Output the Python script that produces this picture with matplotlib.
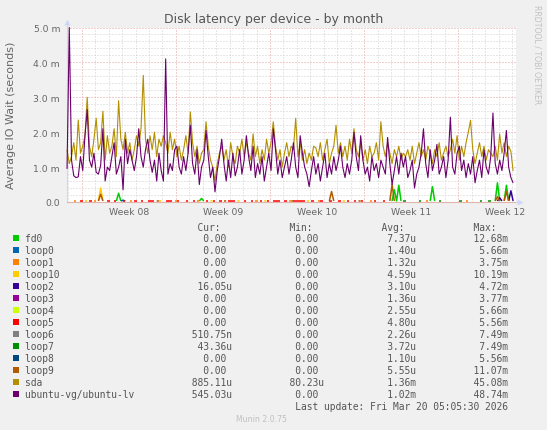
import numpy as np
import matplotlib
matplotlib.use("Agg")
import matplotlib.pyplot as plt
from matplotlib.patches import Rectangle

W, H = 547, 431

# samples every 4 hours, time in days from monday of week 08
t_start = -1.09
t_step = 1 / 6.0

# latency in milliseconds
ubuntu_lv = [
    0.95, 5.0, 1.2, 0.75, 0.7, 0.72, 1.3, 0.9, 1.9, 2.65,
    1.2, 1.0, 1.4, 0.85, 0.8, 1.05, 2.1, 0.6, 1.0, 0.9,
    1.3, 1.7, 0.8, 1.0, 1.3, 0.35, 1.8, 1.1, 1.5, 1.2,
    0.9, 1.3, 2.1, 1.3, 1.0, 1.5, 1.8, 1.2, 0.85, 1.2,
    0.6, 1.4, 0.9, 0.6, 4.1, 0.8, 1.1, 0.9, 1.5, 1.6,
    1.0, 0.8, 1.3, 0.9, 1.4, 2.2, 1.1, 0.8, 1.5, 0.5,
    1.0, 1.2, 2.05, 1.3, 0.7, 1.0, 0.29, 0.9, 1.3, 1.8,
    1.1, 0.6, 1.2, 0.7, 1.4, 0.75, 1.0, 1.5, 0.8, 1.2,
    1.9, 1.3, 0.9, 1.6, 0.7, 1.1, 0.8, 1.3, 0.6, 1.0,
    1.4, 0.9, 2.1, 1.5, 0.8, 1.2, 0.7, 1.0, 1.3, 0.8,
    1.2, 1.7, 1.0, 0.7, 1.9, 1.4, 1.0, 0.8, 0.44, 0.9,
    1.3, 0.8, 1.1, 0.6, 1.0, 1.4, 0.7, 1.1, 0.8, 1.3,
    0.9, 1.2, 1.6, 1.0, 0.7, 1.1, 0.8, 1.2, 2.0, 1.3,
    0.9, 1.9, 1.2, 0.8, 1.0, 0.6, 1.3, 0.9, 1.1, 0.7,
    1.2, 1.0, 0.8, 1.85, 1.1, 0.5, 0.9, 1.3, 0.8, 1.4,
    1.0, 1.3, 0.7, 0.9, 1.2, 0.4, 0.8, 1.0, 1.4, 2.1,
    1.1, 0.7, 1.5, 0.9, 1.2, 1.65, 0.8, 1.0, 1.3, 0.7,
    1.2, 2.43, 1.0, 0.8, 1.4, 1.6, 0.9, 1.2, 0.7, 1.1,
    0.8, 1.3, 0.55, 0.9, 1.2, 0.7, 1.5, 1.0, 0.8, 1.3,
    2.55, 1.1, 0.8, 1.2, 0.9, 1.4, 2.05, 1.0, 0.7, 0.545,
]
sda = [
    1.5, 1.1, 1.3, 1.7, 1.2, 2.35, 1.4, 1.6, 1.9, 3.0,
    1.6, 1.3, 1.8, 2.4, 1.5, 1.7, 2.6, 1.2, 1.9, 1.4,
    1.6, 2.1, 1.3, 2.9, 1.8, 1.5, 2.0, 1.4, 1.7, 1.2,
    1.5, 1.9, 1.6, 2.1, 3.63, 1.8, 1.4, 1.9, 1.5, 2.0,
    1.3, 1.8, 1.6, 1.9, 1.7, 1.4, 2.0, 1.5, 1.8, 1.3,
    1.6, 1.2, 1.5, 1.9, 1.4, 2.58, 1.7, 1.3, 1.6, 1.1,
    1.4, 1.5, 2.3, 1.6, 1.2, 1.0, 0.6, 1.1, 1.4, 1.6,
    1.2, 1.5, 1.0, 1.7, 1.3, 1.1, 1.6, 1.4, 1.8, 1.3,
    1.7, 1.4, 1.2, 1.95, 1.3, 1.6, 1.1, 1.5, 1.2, 1.8,
    1.4, 1.7, 2.3, 1.6, 1.2, 1.5, 1.0, 1.4, 1.7, 1.3,
    1.6, 1.5, 2.4, 1.3, 1.7, 1.2, 1.5, 1.1, 1.4, 1.2,
    1.6, 1.55, 1.3, 1.7, 1.2, 1.5, 1.8, 1.1, 1.4, 1.6,
    2.2, 1.4, 1.7, 1.3, 1.6, 1.2, 1.8, 1.4, 2.1, 1.5,
    1.3, 1.7, 1.2, 1.5, 1.1, 1.6, 1.3, 1.4, 1.7, 1.2,
    2.3, 1.6, 1.3, 1.7, 1.4, 1.1, 1.5, 1.3, 1.6, 1.2,
    1.4, 1.3, 1.5, 1.2, 1.6, 1.1, 1.4, 1.7, 1.3, 1.5,
    1.2, 1.6, 1.4, 1.1, 1.5, 1.3, 1.7, 1.2, 1.4, 1.6,
    1.3, 1.5, 1.8, 1.4, 1.9, 1.2, 1.6, 1.3, 1.7, 2.0,
    2.34, 1.5, 1.1, 1.4, 1.7, 1.3, 1.6, 1.2, 1.5, 1.4,
    1.3, 1.6, 1.2, 1.95, 1.4, 1.7, 1.3, 1.6, 1.45, 0.885,
]

# the small devices are mostly unknown, only a few spikes (index, ms)
fd0_spikes = [(23, 0.25), (60, 0.1), (146, 0.35), (148, 0.48), (163, 0.44), (192, 0.55), (196, 0.48)]
loop0_spikes = [(25, 0.05)]
loop10_spikes = [(15, 0.4)]
loop2_spikes = [(193, 0.12), (198, 0.32)]
loop9_spikes = [(15, 0.22), (118, 0.3), (145, 0.5), (192, 0.15), (196, 0.3)]
# short stretches of ~0 readings
loop5_dashes = [6, 10, 18, 21, 25, 30, 33, 36, 38, 44, 46, 49, 53, 56, 62, 65, 68, 72, 74, 79,
                82, 86, 89, 92, 94, 97, 101, 103, 105, 109, 113, 117, 121, 125, 128, 131, 137, 141]
loop1_dashes = [3, 12, 28, 48, 58, 84, 99, 112, 135, 160, 178]
loop10_dashes = [8, 41, 64, 76, 88, 107, 123]
loop7_dashes = [150, 157, 166, 175, 184, 188]
loop9_dashes = [40, 70, 100, 130]

names = ["fd0", "loop0", "loop1", "loop10", "loop2", "loop3", "loop4", "loop5",
         "loop6", "loop7", "loop8", "loop9", "sda", "ubuntu-vg/ubuntu-lv"]
colors = ["#00CC00", "#0066B3", "#FF8000", "#FFCC00", "#330099", "#990099", "#CCFF00", "#FF0000",
          "#808080", "#008F00", "#00487D", "#B35A00", "#B38F00", "#6B006B"]
cur = ["0.00", "0.00", "0.00", "0.00", "16.05u", "0.00", "0.00", "0.00",
       "510.75n", "43.36u", "0.00", "0.00", "885.11u", "545.03u"]
mins = ["0.00"] * 12 + ["80.23u", "0.00"]
avgs = ["7.37u", "1.40u", "1.32u", "4.59u", "3.10u", "1.36u", "2.55u", "4.80u",
        "2.26u", "3.72u", "1.10u", "5.55u", "1.36m", "1.02m"]
maxs = ["12.68m", "5.66m", "3.75m", "10.19m", "4.72m", "3.77m", "5.66m", "5.56m",
        "7.49m", "7.49m", "5.56m", "11.07m", "45.08m", "48.74m"]

week_labels = ["Week 08", "Week 09", "Week 10", "Week 11", "Week 12"]
ytick_labels = ["0.0", "1.0 m", "2.0 m", "3.0 m", "4.0 m", "5.0 m"]

n = len(sda)
t = t_start + t_step * np.arange(n)


def small_series(spikes=(), dashes=()):
    a = np.full(n, np.nan)
    for j in dashes:
        a[j:j + 2] = 0.03
    for j, v in spikes:
        for k in (j - 1, j + 1):
            if 0 <= k < n and np.isnan(a[k]):
                a[k] = 0.03
        a[j] = v
    return a


series = {
    "fd0": small_series(fd0_spikes),
    "loop0": small_series(loop0_spikes),
    "loop1": small_series(dashes=loop1_dashes),
    "loop10": small_series(loop10_spikes, loop10_dashes),
    "loop2": small_series(loop2_spikes),
    "loop5": small_series(dashes=loop5_dashes),
    "loop7": small_series(dashes=loop7_dashes),
    "loop9": small_series(loop9_spikes, loop9_dashes),
    "sda": np.array(sda),
    "ubuntu-vg/ubuntu-lv": np.array(ubuntu_lv),
}

FONT = "#666666"
AXIS = "#CFD6F8"
fig = plt.figure(figsize=(W / 100, H / 100), dpi=100, facecolor="#F0F0F0")


def px(x, y):
    return x / W, 1 - y / H


ax = fig.add_axes([67 / W, (H - 203) / H, (516 - 67) / W, (203 - 28.5) / H])
ax.set_facecolor("white")
x_left = (67 - 81.7) / 13.45
x_right = (516 - 81.7) / 13.45
ax.set_xlim(x_left, x_right)
ax.set_ylim(0, 5.0)

# grid: days / weeks and 0.2 ms / 1 ms
for d in range(int(np.ceil(x_left)), int(x_right) + 1):
    major = d % 7 == 0
    ax.axvline(d, color="#E6A0A0" if major else "#D0D0D0", lw=0.72, ls=(0, (1, 2)), zorder=1)
for k in range(1, 26):
    major = k % 5 == 0
    ax.axhline(k * 0.2, color="#E6A0A0" if major else "#D0D0D0", lw=0.72, ls=(0, (1, 2)), zorder=1)

for s in ax.spines.values():
    s.set_visible(False)

# axis lines with small arrow heads, in axes fraction
ax.plot([0, 0], [0, 1.03], transform=ax.transAxes, color=AXIS, lw=0.8, clip_on=False, zorder=2)
ax.plot([0, 1.0], [0, 0], transform=ax.transAxes, color="#E2B4AE", lw=0.8, clip_on=False, zorder=2)
ax.plot([1.0, 1.01], [0, 0], transform=ax.transAxes, color=AXIS, lw=0.8, clip_on=False, zorder=2)
ax.plot([0], [1.03], transform=ax.transAxes, marker="^", ms=4, color=AXIS, mec="none", clip_on=False)
ax.plot([1.01], [0], transform=ax.transAxes, marker=">", ms=4, color=AXIS, mec="none", clip_on=False)

for name, col in zip(names, colors):
    if name in series:
        lw = 0.8 if name in ("sda", "ubuntu-vg/ubuntu-lv") else 1.1
        ax.plot(t, series[name], color=col, lw=lw, zorder=3, clip_on=False, solid_capstyle="butt")

ax.set_xticks([3.5 + 7 * k for k in range(len(week_labels))], week_labels)
ax.set_yticks(np.arange(len(ytick_labels)), ytick_labels)
ax.tick_params(axis="both", length=0, labelsize=6.7, labelcolor=FONT)
ax.tick_params(axis="y", pad=5)
ax.tick_params(axis="x", pad=3.6)

fig.text(*px(273.5, 19), "Disk latency per device - by month", ha="center", va="center",
         fontsize=9, color="#555555")
fig.text(*px(11, 115.7), "Average IO Wait (seconds)", rotation=90, ha="center", va="center",
         fontsize=8, color=FONT)
fig.text(*px(537, 5), "RRDTOOL / TOBI OETIKER", rotation=270, ha="center", va="top",
         fontsize=5.6, color="#C0C0C0")

# legend table in monospace, columns end at char 36, 52, 68, 84
mono = dict(family="DejaVu Sans Mono", fontsize=6.9, color="#555555", ha="left", va="center")
hdr = " " * 30 + "Cur:" + " " * 12 + "Min:" + " " * 12 + "Avg:" + " " * 12 + "Max:"
fig.text(*px(25, 227.7), hdr, **mono)


def pad(v):
    return v if v[-1].isalpha() else v + " "


for k, (name, col) in enumerate(zip(names, colors)):
    y = 239.3 + 12 * k
    fig.patches.append(Rectangle(px(13, y + 3), 6 / W, 6 / H, transform=fig.transFigure,
                                 facecolor=col, edgecolor="none"))
    line = f"{name:<28}{pad(cur[k]):>8}{pad(mins[k]):>16}{pad(avgs[k]):>16}{pad(maxs[k]):>16}"
    fig.text(*px(25, y), line, **mono)

fig.text(*px(25, 407.3), " " * 47 + "Last update: Fri Mar 20 05:05:30 2026", **mono)
fig.text(*px(261, 420), "Munin 2.0.75", ha="center", va="center", fontsize=5.6, color="#C0C0C0")

fig.savefig("out.png", dpi=100, facecolor=fig.get_facecolor())
